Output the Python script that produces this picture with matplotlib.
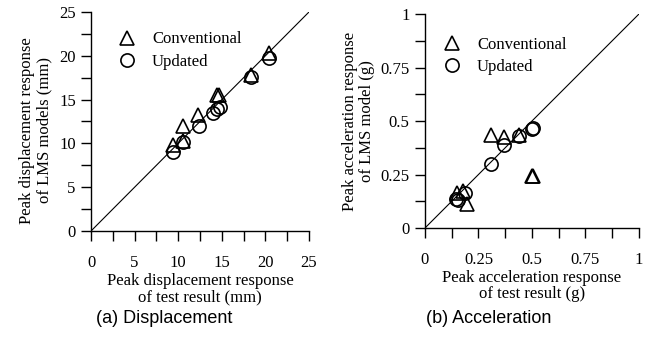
import matplotlib.pyplot as plt
from matplotlib.ticker import MultipleLocator, FuncFormatter
from matplotlib.lines import Line2D

# peak displacement (mm): test result vs. LMS model
disp_test_conv = [9.4, 10.5, 10.6, 12.3, 14.4, 14.7, 18.3, 20.4]
disp_model_conv = [9.8, 12.0, 10.3, 13.2, 15.5, 15.5, 17.8, 20.3]
disp_test_upd = [9.4, 10.6, 12.4, 14.0, 14.4, 14.8, 18.3, 20.4]
disp_model_upd = [9.0, 10.2, 12.0, 13.5, 13.9, 14.2, 17.6, 19.7]

# peak acceleration (g): test result vs. LMS model
acc_test_conv = [0.148, 0.179, 0.195, 0.307, 0.369, 0.441, 0.498, 0.506]
acc_model_conv = [0.165, 0.174, 0.111, 0.435, 0.424, 0.435, 0.243, 0.243]
acc_test_upd = [0.145, 0.156, 0.187, 0.307, 0.369, 0.441, 0.498, 0.506]
acc_model_upd = [0.134, 0.131, 0.165, 0.298, 0.388, 0.432, 0.462, 0.466]

disp_ticks = [0, 5, 10, 15, 20, 25]
acc_ticks = [0, 0.25, 0.5, 0.75, 1]

plt.rcParams['font.family'] = ['Liberation Serif', 'DejaVu Serif']

fig = plt.figure(figsize=(6.53, 3.42), dpi=100)
ax1 = fig.add_axes([0.1394, 0.3246, 0.3338, 0.6404])
ax2 = fig.add_axes([0.6508, 0.3333, 0.3277, 0.6257])

mk = dict(linestyle='none', mfc='none', mec='black', mew=1.2, ms=9.5)


def style_axes(ax, ticks, step, fmt):
    lim = ticks[-1]
    ax.set_xlim(0, lim)
    ax.set_ylim(0, lim)
    for side in ('top', 'right'):
        ax.spines[side].set_visible(False)
    for side in ('left', 'bottom'):
        ax.spines[side].set_linewidth(1.0)
    ax.xaxis.set_major_locator(MultipleLocator(ticks[1]))
    ax.yaxis.set_major_locator(MultipleLocator(ticks[1]))
    ax.xaxis.set_minor_locator(MultipleLocator(step))
    ax.yaxis.set_minor_locator(MultipleLocator(step))
    ax.xaxis.set_major_formatter(FuncFormatter(fmt))
    ax.yaxis.set_major_formatter(FuncFormatter(fmt))
    ax.tick_params(which='both', direction='out', length=7, width=1.0)
    ax.tick_params(axis='x', which='major', pad=10, labelsize=12)
    ax.tick_params(axis='y', which='major', pad=4, labelsize=12)
    ax.plot([0, lim], [0, lim], color='black', lw=0.8, zorder=1)


def fmt_disp(v, pos):
    return '%d' % v


def fmt_acc(v, pos):
    return '%g' % v


style_axes(ax1, disp_ticks, 2.5, fmt_disp)
style_axes(ax2, acc_ticks, 0.125, fmt_acc)

ax1.plot(disp_test_conv, disp_model_conv, marker='^', **mk)
ax1.plot(disp_test_upd, disp_model_upd, marker='o', **mk)
ax2.plot(acc_test_conv, acc_model_conv, marker='^', **mk)
ax2.plot(acc_test_upd, acc_model_upd, marker='o', **mk)

handles = [Line2D([], [], marker='^', **mk), Line2D([], [], marker='o', **mk)]
names = ['Conventional', 'Updated']
ax1.legend(handles, names, loc='upper left', bbox_to_anchor=(0.05, 0.98),
           frameon=False, fontsize=12, handletextpad=0.9, labelspacing=0.4,
           handlelength=1.2)
ax2.legend(handles, names, loc='upper left', bbox_to_anchor=(0.01, 0.965),
           frameon=False, fontsize=12, handletextpad=0.9, labelspacing=0.4,
           handlelength=1.2)

ax1.set_xlabel('Peak displacement response\nof test result (mm)', fontsize=12,
               linespacing=0.98, labelpad=2)
ax1.set_ylabel('Peak displacement response\nof LMS models (mm)', fontsize=12,
               linespacing=1.1, labelpad=5)
ax1.yaxis.label.set_y(0.46)
ax2.set_xlabel('Peak acceleration response\nof test result (g)', fontsize=12,
               linespacing=0.98, labelpad=2)
ax2.set_ylabel('Peak acceleration response\nof LMS model (g)', fontsize=12,
               linespacing=1.1, labelpad=4)

fig.text(0.252, 0.070, '(a) Displacement', family='Liberation Sans',
         fontsize=13, ha='center', va='center')
fig.text(0.748, 0.070, '(b) Acceleration', family='Liberation Sans',
         fontsize=13, ha='center', va='center')

fig.savefig('out.png', dpi=100)
